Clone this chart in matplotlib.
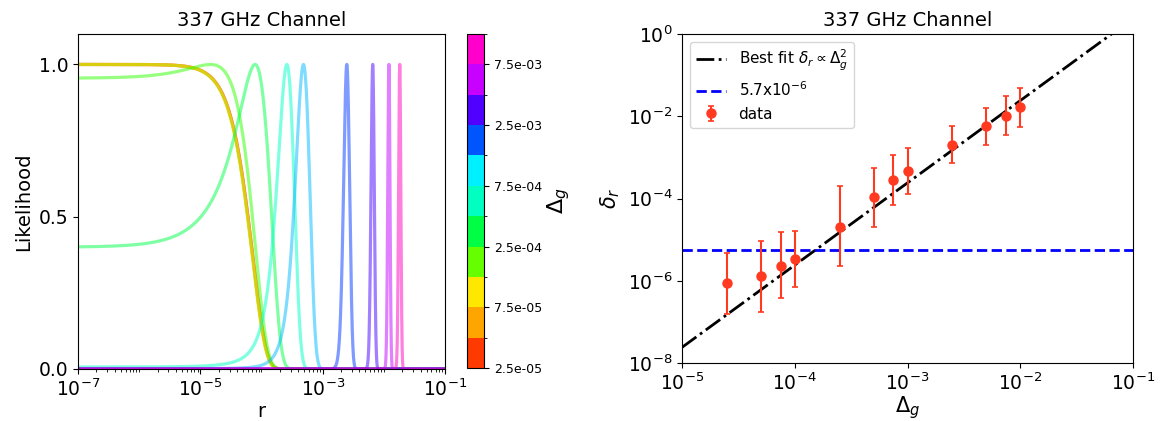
import numpy as np
import matplotlib
matplotlib.use("Agg")
import matplotlib.pyplot as plt
from matplotlib.colors import ListedColormap, BoundaryNorm
from matplotlib.cm import ScalarMappable
from matplotlib.ticker import LogLocator, NullLocator, NullFormatter, FixedLocator

# gain mismatch values
delta_g = [2.5e-5, 5e-5, 7.5e-5, 1e-4, 2.5e-4, 5e-4, 7.5e-4, 1e-3, 2.5e-3, 5e-3, 7.5e-3, 1e-2]

# likelihood of r for each gain mismatch: peak location and width
peak_r = [0.0, 0.0, 0.0, 0.0, 1.46e-5, 7.85e-5, 2.6e-4, 4.85e-4, 2.48e-3, 6.58e-3, 1.21e-2, 1.82e-2]
width_r = [5.1e-5, 5.1e-5, 5.05e-5, 5.0e-5, 4.8e-5, 5.8e-5, 8.2e-5, 1.3e-4, 2.8e-4, 4.0e-4, 5.0e-4, 7.5e-4]

# bias on r with its lower / upper bounds
delta_r = [9.0e-7, 1.28e-6, 2.34e-6, 3.47e-6, 2.04e-5, 1.08e-4, 2.84e-4, 4.54e-4, 1.98e-3, 5.65e-3, 1.04e-2, 1.64e-2]
delta_r_lo = [1.59e-7, 1.74e-7, 3.75e-7, 6.95e-7, 2.25e-6, 2.08e-5, 6.87e-5, 1.27e-4, 7.2e-4, 1.98e-3, 3.47e-3, 5.52e-3]
delta_r_hi = [4.85e-6, 9.5e-6, 1.51e-5, 1.6e-5, 2.03e-4, 5.58e-4, 1.15e-3, 1.7e-3, 5.74e-3, 1.55e-2, 3.13e-2, 4.74e-2]

fit_amp = 240.0          # delta_r = fit_amp * delta_g**2
r_threshold = 5.7e-6

cbar_colors = ["#ff3a00", "#ffa500", "#ffe800", "#66ff00", "#00ff44", "#00ffc0",
               "#00f0ff", "#0055ff", "#5000ff", "#c800ff", "#ff00cc"]
cbar_ticks = [2.5e-5, 7.5e-5, 2.5e-4, 7.5e-4, 2.5e-3, 7.5e-3]

red = "#ff3a20"

fig = plt.figure(figsize=(11.64, 4.21), dpi=100)
ax1 = fig.add_axes([78 / 1164, 52 / 421, 367 / 1164, 335 / 421])
cax = fig.add_axes([467 / 1164, 53 / 421, 17 / 1164, 334 / 421])
ax2 = fig.add_axes([682 / 1164, 58 / 421, 451 / 1164, 329 / 421])

# ---- left: likelihood curves ----
r = np.logspace(-7, -1, 40000)
rainbow = plt.get_cmap("gist_rainbow")
n = len(delta_g)
for i, (mu, sig) in enumerate(zip(peak_r, width_r)):
    like = np.exp(-0.5 * ((r - mu) / sig) ** 2)
    like = like / like.max()
    ax1.plot(r, like, color=rainbow(i / (n - 1)), alpha=0.5, lw=2.3)

ax1.set_xscale("log")
ax1.set_xlim(1e-7, 1e-1)
ax1.set_ylim(0, 1.1)
ax1.set_yticks([0.0, 0.5, 1.0])
ax1.xaxis.set_major_locator(FixedLocator([1e-7, 1e-5, 1e-3, 1e-1]))
ax1.xaxis.set_minor_locator(LogLocator(base=10, subs=np.arange(1, 10), numticks=50))
ax1.xaxis.set_minor_formatter(NullFormatter())
ax1.tick_params(labelsize=13.5)
ax1.set_xlabel("r", fontsize=14, labelpad=1)
ax1.set_ylabel("Likelihood", fontsize=14)
ax1.set_title("337 GHz Channel", fontsize=14)

cmap = ListedColormap(cbar_colors)
norm = BoundaryNorm(delta_g, cmap.N)
sm = ScalarMappable(norm=norm, cmap=cmap)
cb = fig.colorbar(sm, cax=cax, ticks=cbar_ticks, format="%.1e", spacing="uniform")
cb.ax.tick_params(labelsize=9)
cb.set_label(r"$\Delta_g$", fontsize=16, labelpad=2)

# ---- right: bias versus gain mismatch ----
dg = np.array(delta_g)
dr = np.array(delta_r)
yerr = [dr - np.array(delta_r_lo), np.array(delta_r_hi) - dr]
xfit = np.logspace(-5, -1, 200)
ax2.plot(xfit, fit_amp * xfit ** 2, color="black", ls="-.", lw=2,
         label=r"Best fit $\delta_r \propto \Delta_g^2$")
ax2.axhline(r_threshold, color="blue", ls="--", lw=2, label=r"5.7x$10^{-6}$")
ax2.errorbar(dg, dr, yerr=yerr, fmt="o", color=red, ms=6.5, capsize=2.5,
             elinewidth=1.5, capthick=1.2, label="data")
ax2.set_xscale("log")
ax2.set_yscale("log")
ax2.set_xlim(1e-5, 1e-1)
ax2.set_ylim(1e-8, 1)
ax2.xaxis.set_major_locator(FixedLocator([1e-5, 1e-4, 1e-3, 1e-2, 1e-1]))
ax2.yaxis.set_major_locator(FixedLocator([1e-8, 1e-6, 1e-4, 1e-2, 1]))
ax2.xaxis.set_minor_locator(NullLocator())
ax2.yaxis.set_minor_locator(NullLocator())
ax2.tick_params(labelsize=13.5)
ax2.set_xlabel(r"$\Delta_g$", fontsize=15, labelpad=0)
ax2.set_ylabel(r"$\delta_r$", fontsize=15)
ax2.set_title("337 GHz Channel", fontsize=14)
ax2.legend(loc="upper left", fontsize=11)

fig.savefig("out.png", dpi=100)
